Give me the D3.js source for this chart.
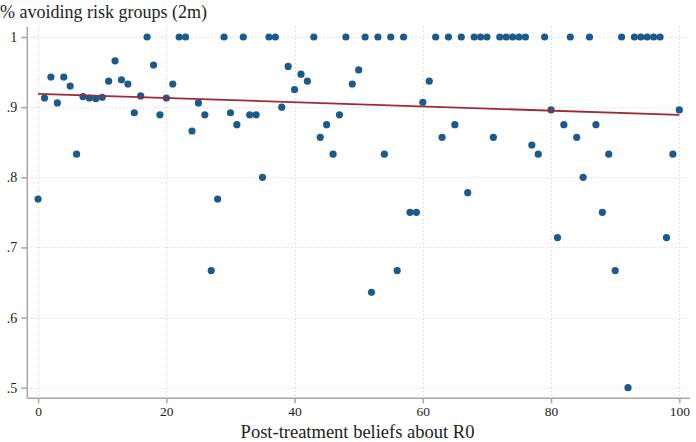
<!DOCTYPE html>
<html><head><meta charset="utf-8">
<script src="https://cdn.jsdelivr.net/npm/d3@7"></script>
<style>body{margin:0;background:#fff}svg{display:block}</style>
</head><body>
<script>
// Data
const beliefs = d3.range(0, 101); // x: post-treatment beliefs about R0
const avoiding = [
 .769,.913,.943,.906,.943,.930,.833,.915,.913,.912,
 .914,.937,.966,.939,.933,.892,.916,1,.960,.889,
 .913,.933,1,1,.866,.906,.889,.667,.769,1,
 .892,.875,1,.889,.889,.800,1,1,.900,.958,
 .925,.947,.937,1,.857,.875,.833,.889,1,.933,
 .953,1,.636,1,.833,1,.667,1,.750,.750,
 .907,.937,1,.857,1,.875,1,.778,1,1,
 1,.857,1,1,1,1,1,.846,.833,1,
 .896,.714,.875,1,.857,.800,1,.875,.750,.833,
 .667,1,.5,1,1,1,1,1,.714,.833,
 .896];
const fitX = [0, 100];
const fitY = [.919, .889];
const xTicks = [0, 20, 40, 60, 80, 100];
const yTicks = [.5, .6, .7, .8, .9, 1];
const yTickLabels = [".5", ".6", ".7", ".8", ".9", "1"];
const yTitle = "% avoiding risk groups (2m)";
const xTitle = "Post-treatment beliefs about R0";

(function () {
const W = 696, H = 442;
const font = "'Liberation Serif','Times New Roman',serif";
const svg = d3.select("body").append("svg").attr("width", W).attr("height", H);

const x = d3.scaleLinear().domain([0, 100]).range([38.1, 679.3]);
const y = d3.scaleLinear().domain([.5, 1]).range([387.7, 37]);
const pL = 27.3, pR = 690, pT = 27, pB = 398.3;

// gridlines
const grid = svg.append("g").attr("stroke", "#cfcfcf").attr("stroke-width", 1).attr("stroke-dasharray", "1,3");
grid.selectAll("line.gx").data(xTicks).join("line").attr("class", "gx")
  .attr("x1", d => Math.round(x(d)) + .5).attr("x2", d => Math.round(x(d)) + .5)
  .attr("y1", pT).attr("y2", pB);
grid.selectAll("line.gy").data(yTicks).join("line").attr("class", "gy")
  .attr("y1", d => Math.round(y(d)) + .5).attr("y2", d => Math.round(y(d)) + .5)
  .attr("x1", pL).attr("x2", pR);

// axes
const xAxis = d3.axisBottom(x).tickValues(xTicks).tickSize(5).tickPadding(3).tickFormat(d3.format("d"));
const yAxis = d3.axisLeft(y).tickValues(yTicks).tickSize(6).tickPadding(4).tickFormat((d, i) => yTickLabels[i]);

const gx = svg.append("g").attr("transform", `translate(0,${pB})`).call(xAxis);
gx.select(".domain").remove();
gx.append("line").attr("x1", pL).attr("x2", pR).attr("y1", 0).attr("y2", 0);
const gy = svg.append("g").attr("transform", `translate(${pL},0)`).call(yAxis);
gy.select(".domain").remove();
gy.append("line").attr("x1", 0).attr("x2", 0).attr("y1", pT).attr("y2", pB);

[gx, gy].forEach(g => {
  g.selectAll("line").attr("stroke", "#a6a6a6").attr("stroke-width", 1.5);
  g.selectAll("text").attr("font-family", font).attr("font-size", 14).attr("fill", "#222");
});
gx.selectAll("text").attr("font-size", 13.5);

// points
svg.append("g").selectAll("circle").data(beliefs).join("circle")
  .attr("cx", d => x(d)).attr("cy", (d, i) => y(avoiding[i])).attr("r", 3.6)
  .attr("fill", "#1b5a8b");

// fit line
svg.append("line")
  .attr("x1", x(fitX[0])).attr("y1", y(fitY[0]))
  .attr("x2", x(fitX[1])).attr("y2", y(fitY[1]))
  .attr("stroke", "#9c2b35").attr("stroke-width", 1.8);

// titles
const t1 = svg.append("text").attr("x", 0).attr("y", 18).attr("font-family", font)
  .attr("font-size", 17).attr("fill", "#222").text(yTitle);
const t1w = t1.node().getComputedTextLength();
t1.attr("font-size", 17 * 207 / t1w);

const t2 = svg.append("text").attr("x", (240 + 475) / 2).attr("y", 438).attr("text-anchor", "middle")
  .attr("font-family", font).attr("font-size", 18.5).attr("fill", "#222").text(xTitle);
})();
</script>
</body></html>
